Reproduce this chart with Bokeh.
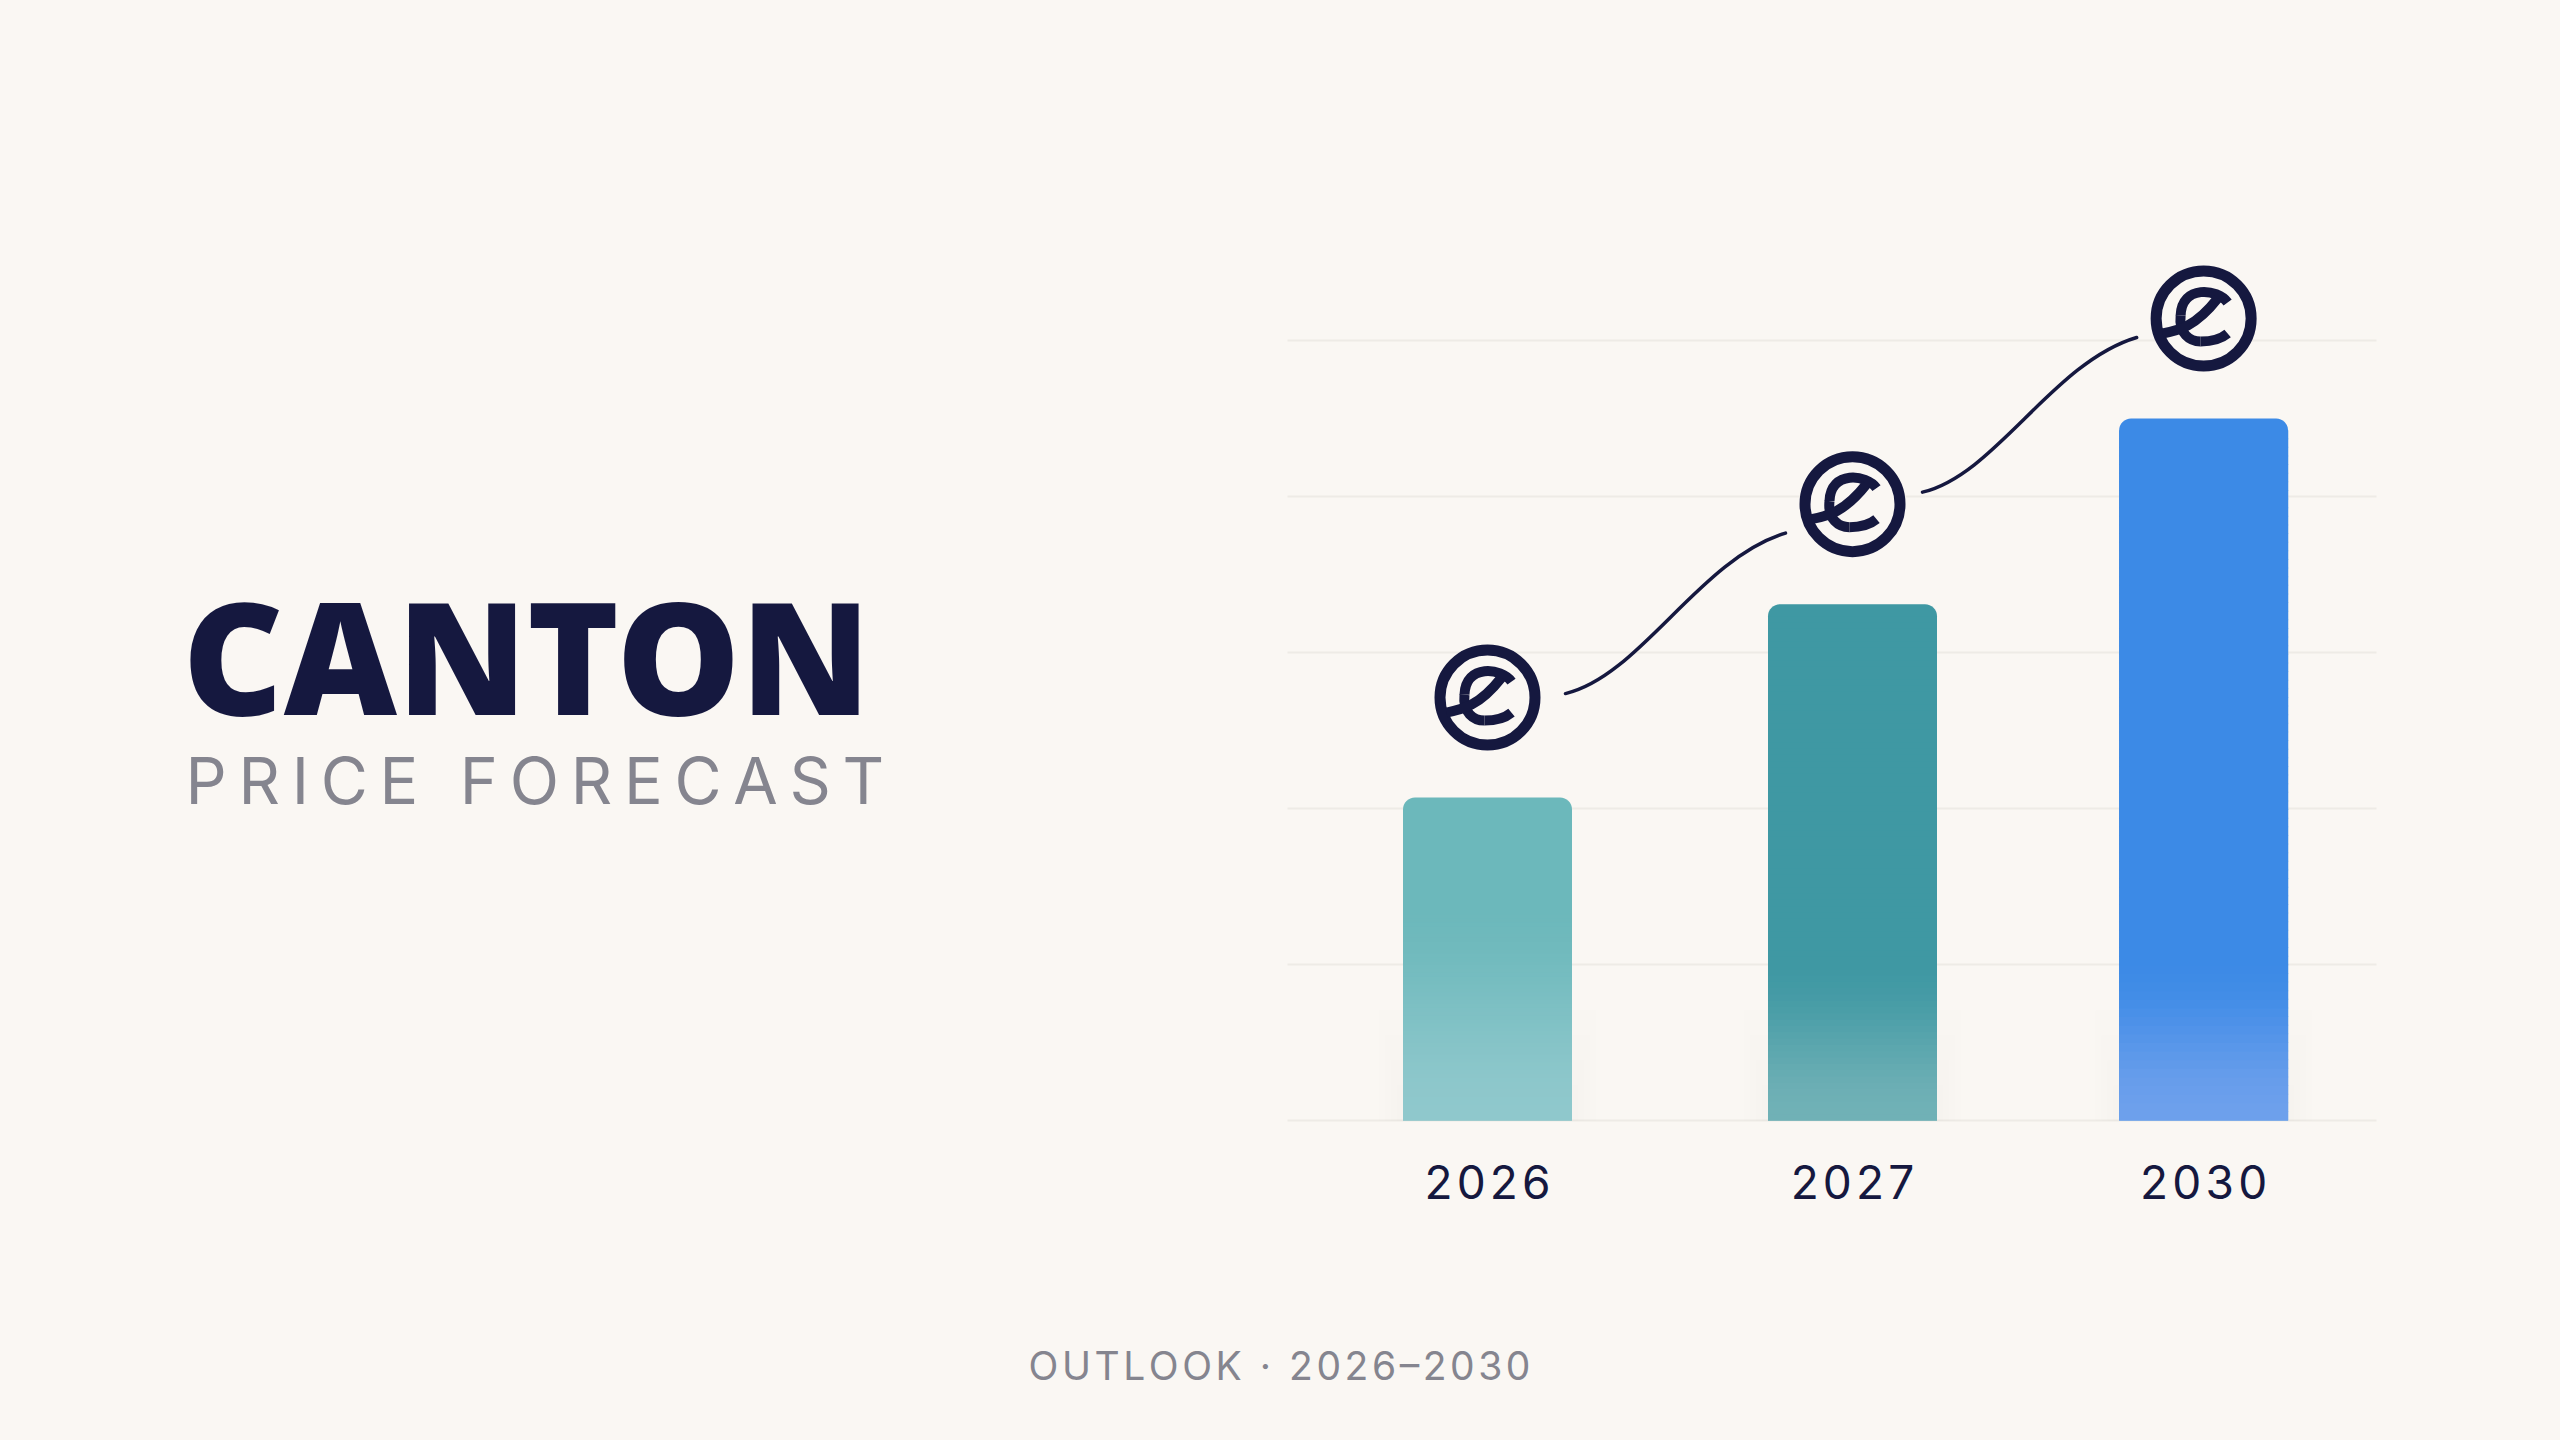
from bokeh.embed import file_html
from bokeh.models import FixedTicker, Label, Range1d
from bokeh.plotting import figure
from bokeh.resources import INLINE
import numpy as np

# chart data, price axis has no printed units so grid steps count as 1
years = ["2026", "2027", "2030"]
prices = [2.07, 3.31, 4.50]
grid_levels = [0, 1, 2, 3, 4, 5]

# the 2030 slot sits a bit closer than an even step
slots = [0.0, 1.0, 1.962]

BG = "#faf7f3"
NAVY = "#15183f"
GREY = "#85858f"
GRID = "#eeebe6"
bar_top = ["#6cb8bb", "#3f98a3", "#3c8ae6"]
bar_bottom = ["#8fc8cc", "#70b1b6", "#6da0ec"]
fade_from = [1.4, 1.0, 1.0]

# everything below measured in window pixels, the frame fills the canvas
# because labels outside the frame get clipped
W, H = 2552, 1432
BASE_Y = 1120
PX_X = 365.0
PX_Y = 156.0
X0 = 1487


def dx(px):
    return px / PX_X


def dy(px):
    return -px / PX_Y


def wx(px):
    return (px - X0) / PX_X


def wy(px):
    return (BASE_Y - px) / PX_Y


p = figure(
    width=W,
    height=H,
    x_range=Range1d(wx(0), wx(W)),
    y_range=Range1d(wy(H), wy(0)),
    output_backend="svg",
    toolbar_location=None,
    min_border=0,
    background_fill_color=BG,
    border_fill_color=BG,
    outline_line_color=None,
)

p.yaxis.visible = False
p.xgrid.visible = False
p.ygrid.visible = False

p.segment(
    x0=wx(1287), x1=wx(2376), y0=grid_levels, y1=grid_levels,
    line_color=GRID, line_width=2,
)

p.xaxis.fixed_location = 0
p.xaxis.ticker = FixedTicker(ticks=slots)
p.xaxis.major_label_overrides = dict(zip(slots, ["\u200a".join(y) for y in years]))
p.xaxis.axis_line_color = None
p.xaxis.major_tick_line_color = None
p.xaxis.minor_tick_line_color = None
p.xaxis.major_label_standoff = 27
p.xaxis.major_label_text_font = "Inter"
p.xaxis.major_label_text_font_size = "46px"
p.xaxis.major_label_text_color = NAVY

bar_w = dx(169)

# soft shadow round the feet of the bars
for spread, rise in [(24, 110), (18, 85), (12, 60), (6, 35)]:
    p.quad(
        left=[s - bar_w / 2 - dx(spread) for s in slots],
        right=[s + bar_w / 2 + dx(spread) for s in slots],
        bottom=0,
        top=-dy(rise),
        fill_color="#55504a",
        fill_alpha=0.008,
        line_color=None,
    )

p.vbar(
    x=slots,
    top=prices,
    width=bar_w,
    bottom=0,
    fill_color=bar_top,
    fill_alpha=1.0,
    line_color=None,
    border_radius=(12, 12, 0, 0),
)


def rgb(h):
    return np.array([int(h[i:i + 2], 16) for i in (1, 3, 5)], dtype=float)


# bokeh has no gradient fill on bars, so the body is thin slices up to the corners
for s, v, top_c, bot_c, start in zip(slots, prices, bar_top, bar_bottom, fade_from):
    edges = np.linspace(0, v + dy(12), 81)
    cols = []
    for e in edges[:-1]:
        t = max(0.0, 1 - e / start)
        ease = t * t * (3 - 2 * t)
        c = rgb(top_c) + (rgb(bot_c) - rgb(top_c)) * ease
        cols.append("#%02x%02x%02x" % tuple(int(round(x)) for x in c))
    tops = np.minimum(edges[1:] + dy(-1), v + dy(12))
    p.quad(
        left=s - bar_w / 2,
        right=s + bar_w / 2,
        bottom=edges[:-1],
        top=tops,
        fill_color=cols,
        fill_alpha=1.0,
        line_color=None,
    )

# euro badges float 100px over each bar
badge_y = [v + 100 / PX_Y for v in prices]

# connector curves between the badges
start_off = [(78, -4), (70, -12)]
end_off = [(-67, 29), (-67, 19)]
for i in range(2):
    x0 = slots[i] + dx(start_off[i][0])
    y0 = badge_y[i] + dy(start_off[i][1])
    x1 = slots[i + 1] + dx(end_off[i][0])
    y1 = badge_y[i + 1] + dy(end_off[i][1])
    p.bezier(
        x0=x0,
        y0=y0,
        x1=x1,
        y1=y1,
        cx0=x0 + 0.34 * (x1 - x0),
        cy0=y0 + 0.11 * (y1 - y0),
        cx1=x0 + 0.61 * (x1 - x0),
        cy1=y0 + 0.84 * (y1 - y0),
        line_color=NAVY,
        line_width=3.5,
        line_cap="round",
    )

p.scatter(
    x=slots,
    y=badge_y,
    size=95,
    marker="circle",
    fill_color=BG,
    line_color=NAVY,
    line_width=11,
)

# the script e inside each badge, pixel offsets from the badge centre
e_strokes = [
    ((24, -16), (14, -30), (-22, -34), (-23, -3)),
    ((-23, -3), (-25, 15), (-14, 23), (-3, 23)),
    ((-3, 23), (8, 23), (18, 20), (24, 15)),
    ((-41, 15), (-25, 12), (-8, 8), (14, -20)),
]
for a, b, c, d in e_strokes:
    p.bezier(
        x0=[s + dx(a[0]) for s in slots],
        y0=[y + dy(a[1]) for y in badge_y],
        x1=[s + dx(d[0]) for s in slots],
        y1=[y + dy(d[1]) for y in badge_y],
        cx0=[s + dx(b[0]) for s in slots],
        cy0=[y + dy(b[1]) for y in badge_y],
        cx1=[s + dx(c[0]) for s in slots],
        cy1=[y + dy(c[1]) for y in badge_y],
        line_color=NAVY,
        line_width=10,
        line_cap="butt",
    )

# label y sits about .35em above where the text lands, so numbers are shifted
p.add_layout(Label(
    x=wx(182), y=wy(654), text="CANTON",
    text_font="Open Sans ExtraBold", text_font_size="156px",
    text_color=NAVY, text_baseline="alphabetic", text_align="left",
))
p.add_layout(Label(
    x=wx(185), y=wy(780), text="\u2009".join("PRICE FORECAST"),
    text_font="Inter", text_font_size="64.5px",
    text_color=GREY, text_baseline="alphabetic", text_align="left",
))
p.add_layout(Label(
    x=wx(1279), y=wy(1365), text="\u200a".join("OUTLOOK \u00b7 2026\u20132030"),
    text_font="Inter", text_font_size="39px",
    text_color=GREY, text_baseline="alphabetic", text_align="center",
))

html = file_html(p, INLINE).replace("<head>", "<head><style>html,body{background:%s}</style>" % BG, 1)
open("out.html", "w").write(html)
